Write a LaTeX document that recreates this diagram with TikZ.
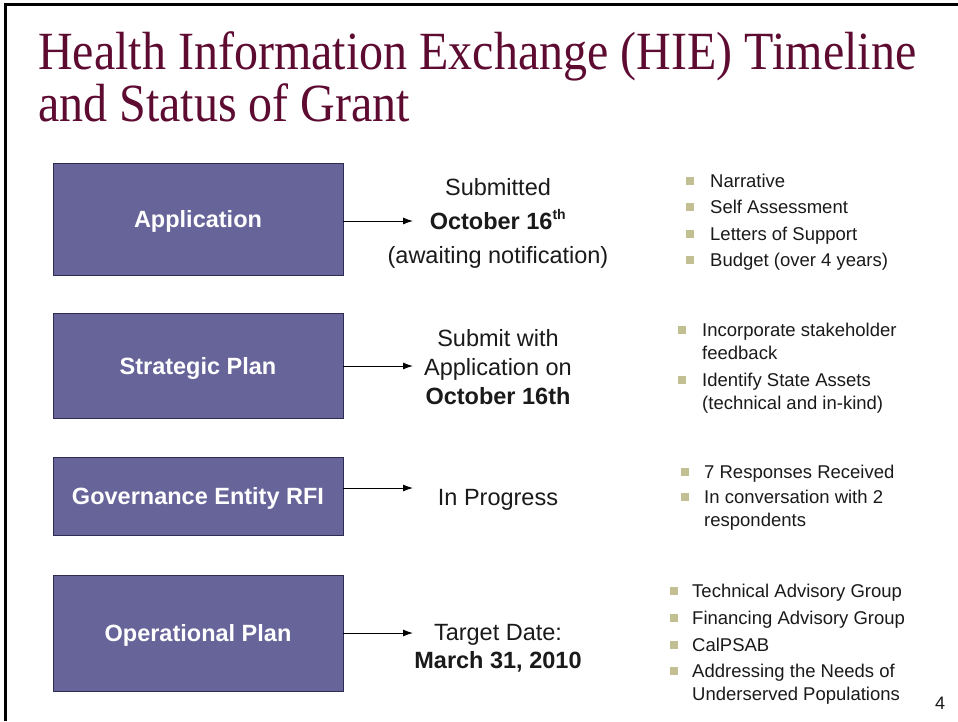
\documentclass[tikz,border=0pt]{standalone}
\usepackage{fontspec}
\setmainfont{Liberation Sans}
\newfontfamily\titlefont{Liberation Serif}
\usetikzlibrary{arrows.meta}
\definecolor{boxfill}{HTML}{67649A}
\definecolor{boxline}{HTML}{2E2B55}
\definecolor{titlecol}{HTML}{5E0B32}
\definecolor{bulletcol}{HTML}{C2BF93}
\definecolor{txt}{HTML}{1A1A1A}
\tikzset{
  phase/.style={draw=boxline, line width=0.8pt, fill=boxfill, minimum width=290pt, text=white, text depth=0pt, font=\fontsize{23.5}{28}\selectfont\bfseries, inner sep=0pt},
  midtext/.style={anchor=base, text=txt, font=\fontsize{23.5}{28}\selectfont, inner sep=0pt},
  midbold/.style={midtext, font=\fontsize{23.5}{28}\selectfont\bfseries},
  btext/.style={anchor=base west, text=txt, font=\fontsize{18.5}{22}\selectfont, inner sep=0pt},
  bsq/.style={fill=bulletcol, minimum size=8.5pt, inner sep=0pt},
  link/.style={draw=black, line width=1pt, -{Latex[length=10pt,width=7pt]}},
  titletext/.style={anchor=base west, text=titlecol, font=\titlefont\fontsize{48}{54}\selectfont, inner sep=0pt}
}
\begin{document}
\begin{tikzpicture}[x=1pt,y=-1pt]
\useasboundingbox (0,0) rectangle (958,721);
\fill[white] (0,0) rectangle (958,721);
% frame
\draw[line width=3pt,black] (5,721) -- (5,4) -- (958,4);
% title
\node[titletext] (t1) at (38,69) {\scalebox{1}[1.12]{Health Information Exchange (HIE) Timeline}};
\node[titletext] (t2) at (38,121) {\scalebox{1}[1.12]{and Status of Grant}};
% boxes
\node[phase, minimum height=112pt] (app) at (198,219) {Application};
\node[phase, minimum height=105pt] (sp) at (198,365.5) {Strategic Plan};
\node[phase, minimum height=78pt] (gov) at (198,496) {Governance Entity RFI};
\node[phase, minimum height=116pt] (op) at (198,633) {Operational Plan};
% arrow ends
\coordinate (e1) at (413,221);
\coordinate (e2) at (413,366);
\coordinate (e3) at (413,488);
\coordinate (e4) at (413,633);
\draw[link] (app.east |- e1) -- (e1);
\draw[link] (sp.east |- e2) -- (e2);
\draw[link] (gov.east |- e3) -- (e3);
\draw[link] (op.east |- e4) -- (e4);
% middle texts
\node[midtext] (m1a) at (498,195) {Submitted};
\node[midbold] (m1b) at (498,229) {October 16\textsuperscript{\fontsize{14}{16}\selectfont th}};
\node[midtext] (m1c) at (498,263) {(awaiting notification)};
\node[midtext] (m2a) at (498,346) {Submit with};
\node[midtext] (m2b) at (498,375) {Application on};
\node[midbold] (m2c) at (498,404) {October 16th};
\node[midtext] (m3a) at (498,505) {In Progress};
\node[midtext] (m4a) at (498,640) {Target Date:};
\node[midbold] (m4b) at (498,668) {March 31, 2010};
% bullets group 1
\node[bsq] (s11) at (690,181) {};
\node[btext] (b11) at (710,187.5) {Narrative};
\node[bsq] (s12) at (690,207) {};
\node[btext] (b12) at (710,213.5) {Self Assessment};
\node[bsq] (s13) at (690,234) {};
\node[btext] (b13) at (710,240.5) {Letters of Support};
\node[bsq] (s14) at (690,260) {};
\node[btext] (b14) at (710,266.5) {Budget (over 4 years)};
% bullets group 2
\node[bsq] (s21) at (682,330) {};
\node[btext] (b21) at (702,336.5) {Incorporate stakeholder};
\node[btext] (b21b) at (702,359.5) {feedback};
\node[bsq] (s22) at (682,380) {};
\node[btext] (b22) at (702,386.5) {Identify State Assets};
\node[btext] (b22b) at (702,409.5) {(technical and in-kind)};
% bullets group 3
\node[bsq] (s31) at (685,472) {};
\node[btext] (b31) at (704,478.5) {7 Responses Received};
\node[bsq] (s32) at (685,497) {};
\node[btext] (b32) at (704,503.5) {In conversation with 2};
\node[btext] (b32b) at (704,526.5) {respondents};
% bullets group 4
\node[bsq] (s41) at (674,591) {};
\node[btext] (b41) at (692,597.5) {Technical Advisory Group};
\node[bsq] (s42) at (674,618) {};
\node[btext] (b42) at (692,624.5) {Financing Advisory Group};
\node[bsq] (s43) at (674,645) {};
\node[btext] (b43) at (692,651.5) {CalPSAB};
\node[bsq] (s44) at (674,671) {};
\node[btext] (b44) at (692,677.5) {Addressing the Needs of};
\node[btext] (b44b) at (692,700.5) {Underserved Populations};
% page number
\node[anchor=base, text=txt, font=\fontsize{18}{21}\selectfont, inner sep=0pt] (pg) at (940,709) {4};
\end{tikzpicture}
\end{document}
